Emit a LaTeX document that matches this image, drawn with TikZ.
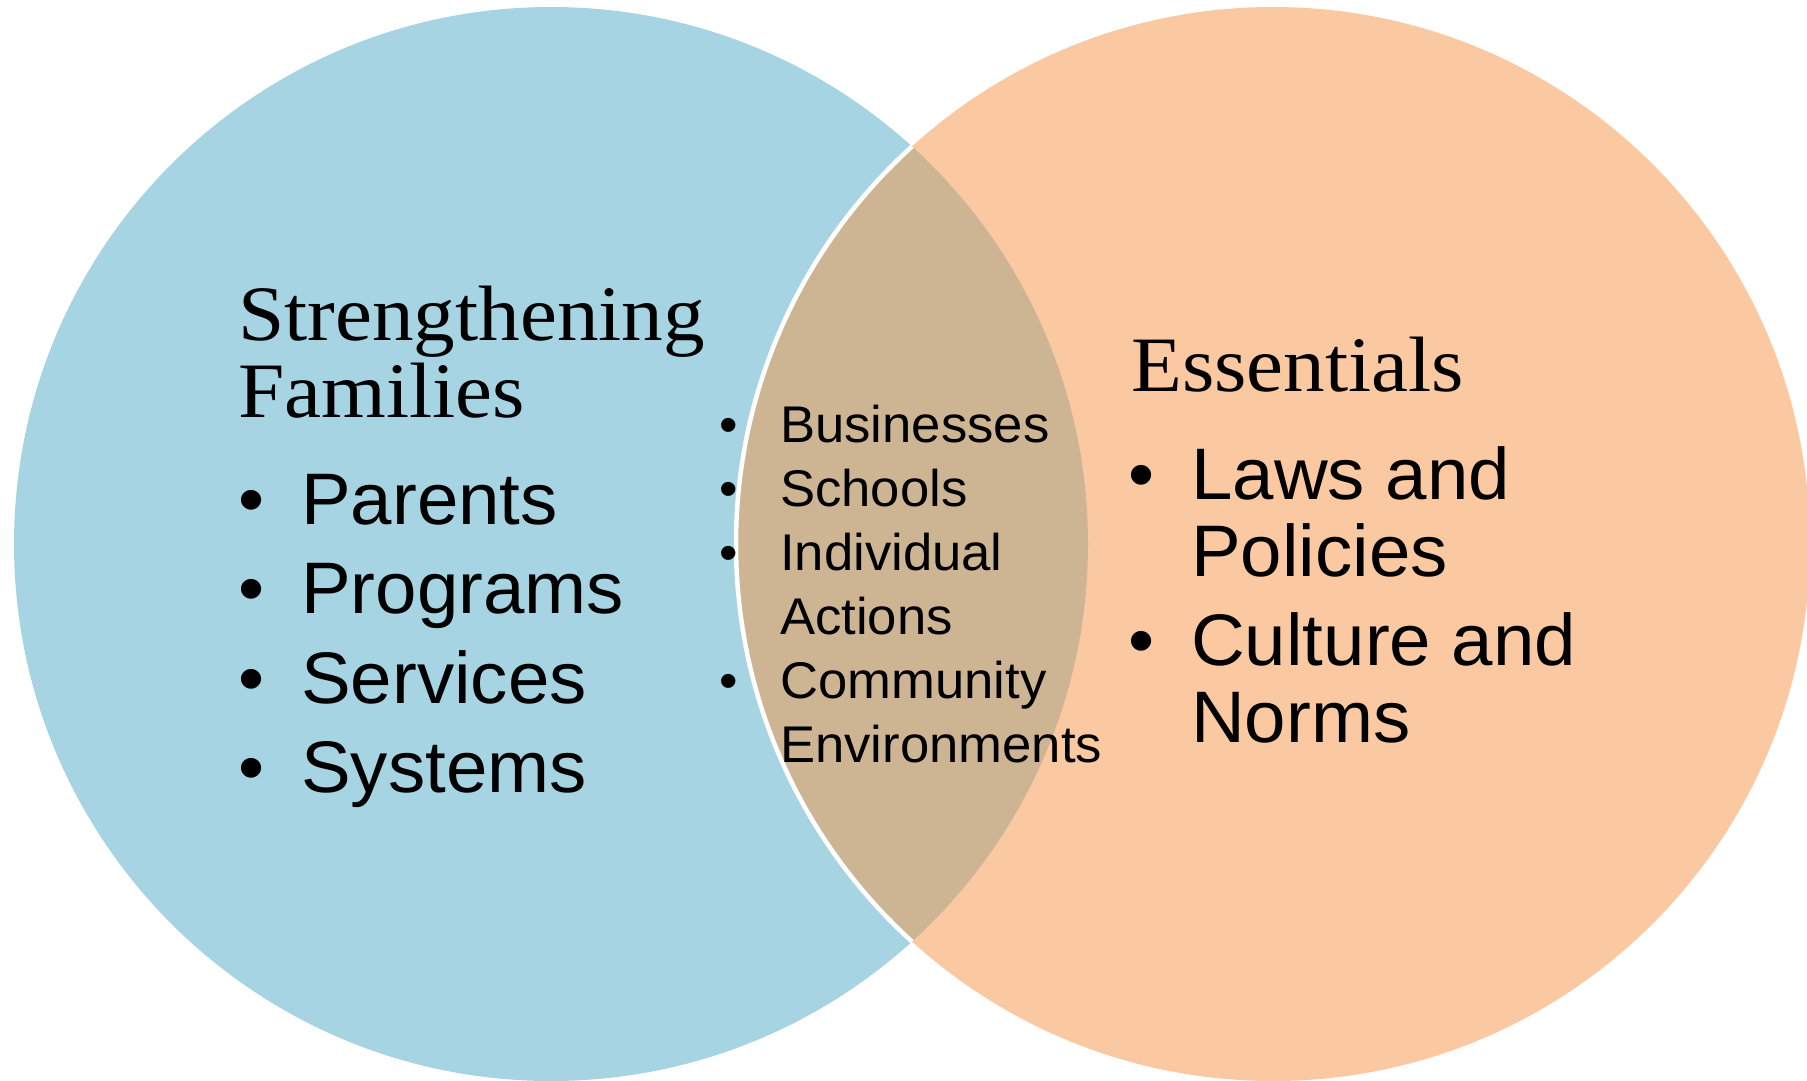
\documentclass[tikz,border=0pt]{standalone}
\usepackage{fontspec}
\setmainfont{Liberation Serif}
\newfontfamily\headf{Liberation Serif}[FakeStretch=1.06]
\newfontfamily\arialf{Liberation Sans}[FakeStretch=1.02]
\definecolor{leftblue}{RGB}{166,212,226}
\definecolor{rightorange}{RGB}{250,201,162}
\definecolor{lenstan}{RGB}{205,180,147}
\tikzset{
  hd/.style={anchor=base west, inner sep=0pt, font=\headf\fontsize{78.5}{90}\selectfont},
  bigtxt/.style={anchor=base west, inner sep=0pt, font=\arialf\fontsize{73}{80}\selectfont},
  bigdot/.style={anchor=base, inner sep=0pt, font=\arialf\fontsize{73}{80}\selectfont},
  smalltxt/.style={anchor=base west, inner sep=0pt, font=\arialf\fontsize{51.6}{60}\selectfont},
  smalldot/.style={anchor=base, inner sep=0pt, font=\arialf\fontsize{51.6}{60}\selectfont}
}
\begin{document}
\begin{tikzpicture}[x=1pt,y=-1pt]
\useasboundingbox (0,0) rectangle (1807,1080);
% circles
\fill[leftblue] (551,544) circle[radius=537pt];
\fill[rightorange] (1273,544) circle[radius=537pt];
\begin{scope}
  \clip (551,544) circle[radius=537pt];
  \fill[lenstan] (1273,544) circle[radius=537pt];
  \draw[white, line width=4.5pt] (1273,544) circle[radius=537pt];
\end{scope}
% left heading and list
\node[hd] (sf1) at (238,340) {Strengthening};
\node[hd] (sf2) at (238,417) {Families};
\node[bigdot] (lb1) at (252,524) {•};
\node[bigtxt] (l1) at (301,524) {Parents};
\node[bigdot] (lb2) at (252,613.5) {•};
\node[bigtxt] (l2) at (301,613.5) {Programs};
\node[bigdot] (lb3) at (252,703) {•};
\node[bigtxt] (l3) at (301,703) {Services};
\node[bigdot] (lb4) at (252,792.5) {•};
\node[bigtxt] (l4) at (301,792.5) {Systems};
% middle list
\node[smalldot] (mb1) at (729,442) {•};
\node[smalltxt] (m1) at (780,442) {Businesses};
\node[smalldot] (mb2) at (729,506) {•};
\node[smalltxt] (m2) at (780,506) {Schools};
\node[smalldot] (mb3) at (729,570) {•};
\node[smalltxt] (m3) at (780,570) {Individual};
\node[smalltxt] (m3b) at (780,634) {Actions};
\node[smalldot] (mb4) at (729,698) {•};
\node[smalltxt] (m4) at (780,698) {Community};
\node[smalltxt] (m4b) at (780,762) {Environments};
% right heading and list
\node[hd] (es) at (1131,391) {Essentials};
\node[bigdot] (rb1) at (1142,499) {•};
\node[bigtxt] (r1) at (1191,499) {Laws and};
\node[bigtxt] (r1b) at (1191,576) {Policies};
\node[bigdot] (rb2) at (1142,665) {•};
\node[bigtxt] (r2) at (1191,665) {Culture and};
\node[bigtxt] (r2b) at (1191,742) {Norms};
\end{tikzpicture}
\end{document}
